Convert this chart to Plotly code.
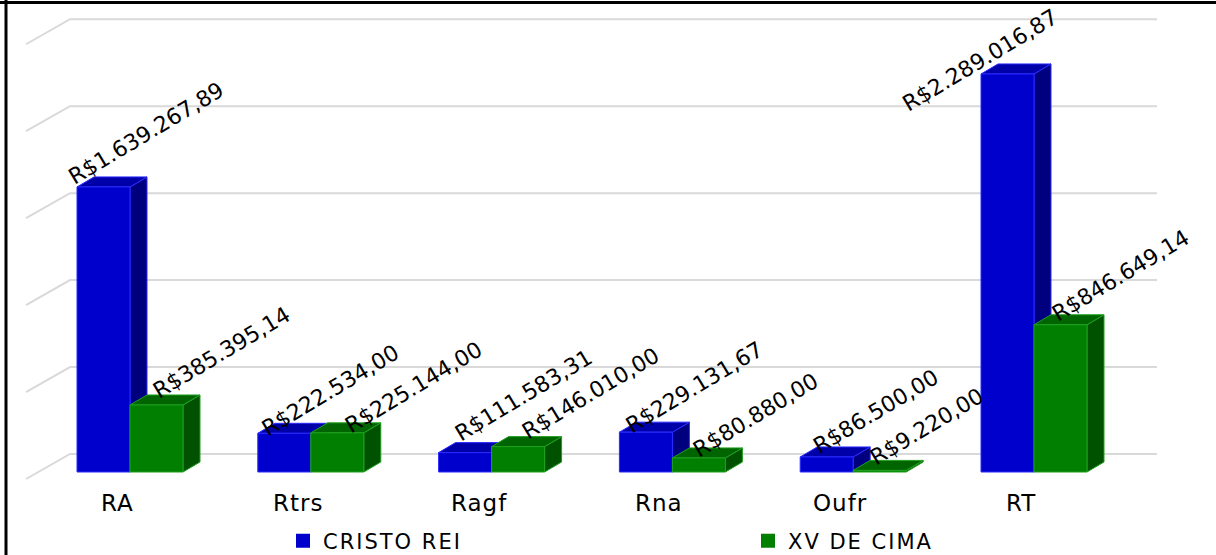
import plotly.graph_objects as go

# ---- data -------------------------------------------------------------
categories = ["RA", "Rtrs", "Ragf", "Rna", "Oufr", "RT"]
cristo_rei = [1639267.89, 222534.00, 111583.31, 229131.67, 86500.00, 2289016.87]
xv_de_cima = [385395.14, 225144.00, 146010.00, 80880.00, 9220.00, 846649.14]
series_names = ["CRISTO REI", "XV DE CIMA"]
grid_values = [0, 500000, 1000000, 1500000, 2000000, 2500000]

# ---- page geometry (pixels) --------------------------------------------
W, H = 1216, 555
PX_PER_CAT = 180.8          # horizontal distance between category groups
GROUP0_X = 130              # pixel x of the first group's centre
PX_PER_VAL = 173.9e-6       # vertical pixels per R$
FLOOR_Y = 472               # pixel y of the front floor edge

BAR_W_PX = 53
DEPTH_X_PX, DEPTH_Y_PX = 17, 10
WALL_BACK_PX = 18
WALL_LEFT_PX, WALL_RIGHT_PX, WALL_SIDE_PX, WALL_DROP_PX = 70, 1157, 26, 25


def px_to_x(px):
    return (px - GROUP0_X) / PX_PER_CAT


def dy_val(px):
    return px / PX_PER_VAL


bar_w = BAR_W_PX / PX_PER_CAT
ddx = DEPTH_X_PX / PX_PER_CAT
ddy = dy_val(DEPTH_Y_PX)

palette = {
    "CRISTO REI": dict(front="#0000CD", top="#0000A8", side="#00007E", edge="#2B2BFF"),
    "XV DE CIMA": dict(front="#007F00", top="#006400", side="#005200", edge="#1FA01F"),
}
legend_pos = {"CRISTO REI": ("legend", 283), "XV DE CIMA": ("legend2", 748)}


def brl(v):
    s = f"{v:,.2f}"
    return "R$" + s.replace(",", "_").replace(".", ",").replace("_", ".")


def spaced(text, px):
    return f'<span style="letter-spacing:{px}px">{text}</span>'


fig = go.Figure()

# back wall grid lines with the left-wall diagonal
gx, gy = [], []
for g in grid_values:
    yb = g + dy_val(WALL_BACK_PX)
    gx += [px_to_x(WALL_SIDE_PX), px_to_x(WALL_LEFT_PX), px_to_x(WALL_RIGHT_PX), None]
    gy += [yb - dy_val(WALL_DROP_PX), yb, yb, None]
fig.add_trace(go.Scatter(x=gx, y=gy, mode="lines", line=dict(color="#D9D9D9", width=2),
                         hoverinfo="skip", showlegend=False))

# 3-D bars: side, top and front faces for each series
for s_idx, (name, values) in enumerate(zip(series_names, [cristo_rei, xv_de_cima])):
    col = palette[name]
    side_x, side_y, top_x, top_y, front_x, front_y = [], [], [], [], [], []
    for i, v in enumerate(values):
        xl = i - bar_w if s_idx == 0 else i
        xr = xl + bar_w
        front_x += [xl, xl, xr, xr, xl, None]
        front_y += [0, v, v, 0, 0, None]
        top_x += [xl, xl + ddx, xr + ddx, xr, xl, None]
        top_y += [v, v + ddy, v + ddy, v, v, None]
        side_x += [xr, xr, xr + ddx, xr + ddx, xr, None]
        side_y += [0, v, v + ddy, ddy, 0, None]
    for fx, fy, c in [(side_x, side_y, col["side"]), (top_x, top_y, col["top"]),
                      (front_x, front_y, col["front"])]:
        fig.add_trace(go.Scatter(x=fx, y=fy, fill="toself", fillcolor=c, mode="lines",
                                 line=dict(color=col["edge"], width=1),
                                 hoverinfo="skip", showlegend=False))
    # legend entry (each series has its own legend box)
    fig.add_trace(go.Scatter(x=[None], y=[None], mode="markers", name=spaced(name, 2),
                             legend=legend_pos[name][0],
                             marker=dict(symbol="square", size=14, color=col["front"])))

# value labels, anchored at each bar's front top-left corner
label_shift = {0: (-3, 3), 1: (16, 1)}
label_nudge = {
    (0, 0): (-13, 2), (1, 0): (0, 0),
    (0, 1): (0, 8), (1, 1): (11, 7),
    (0, 2): (12, -7), (1, 2): (7, -1),
    (0, 3): (2, 6), (1, 3): (-3, 6),
    (0, 4): (9, 1), (1, 4): (-6, 1),
    (0, 5): (-83, 42), (1, 5): (-5, 3),
}
for s_idx, values in enumerate([cristo_rei, xv_de_cima]):
    for i, v in enumerate(values):
        xl = i - bar_w if s_idx == 0 else i
        sx, sy = label_shift[s_idx]
        nx, ny = label_nudge.get((s_idx, i), (0, 0))
        fig.add_annotation(x=xl, y=v, text=brl(v), showarrow=False, textangle=-31,
                           xanchor="left", yanchor="bottom", xshift=sx + nx, yshift=-(sy + ny),
                           font=dict(family="DejaVu Sans", size=22, color="#000000"))

# category labels
for i, c in enumerate(categories):
    fig.add_annotation(x=i - 13 / PX_PER_CAT, y=1 - 503 / H, yref="paper", text=spaced(c, 1),
                       showarrow=False, xanchor="center", yanchor="middle",
                       font=dict(family="DejaVu Sans", size=23, color="#000000"))

# frame lines along the top and left edges
fig.add_shape(type="line", xref="paper", yref="paper", x0=0, x1=1, y0=1 - 2.5 / H, y1=1 - 2.5 / H,
              line=dict(color="#000000", width=3))
fig.add_shape(type="line", xref="paper", yref="paper", x0=6 / W, x1=6 / W, y0=0, y1=1,
              line=dict(color="#000000", width=3))

legend_style = dict(orientation="h", xanchor="left", y=1 - 541 / H, yanchor="middle",
                    bgcolor="rgba(0,0,0,0)", itemwidth=30,
                    font=dict(family="DejaVu Sans", size=21, color="#000000"))

fig.update_layout(
    width=W, height=H, margin=dict(l=0, r=0, t=0, b=0, autoexpand=False),
    paper_bgcolor="#FFFFFF", plot_bgcolor="#FFFFFF",
    xaxis=dict(range=[px_to_x(0), px_to_x(W)], visible=False, fixedrange=True),
    yaxis=dict(range=[(FLOOR_Y - H) / PX_PER_VAL, FLOOR_Y / PX_PER_VAL], visible=False,
               fixedrange=True),
    showlegend=True,
    legend=dict(legend_style, x=legend_pos["CRISTO REI"][1] / W),
    legend2=dict(legend_style, x=legend_pos["XV DE CIMA"][1] / W),
)

fig.write_html("out.html")
